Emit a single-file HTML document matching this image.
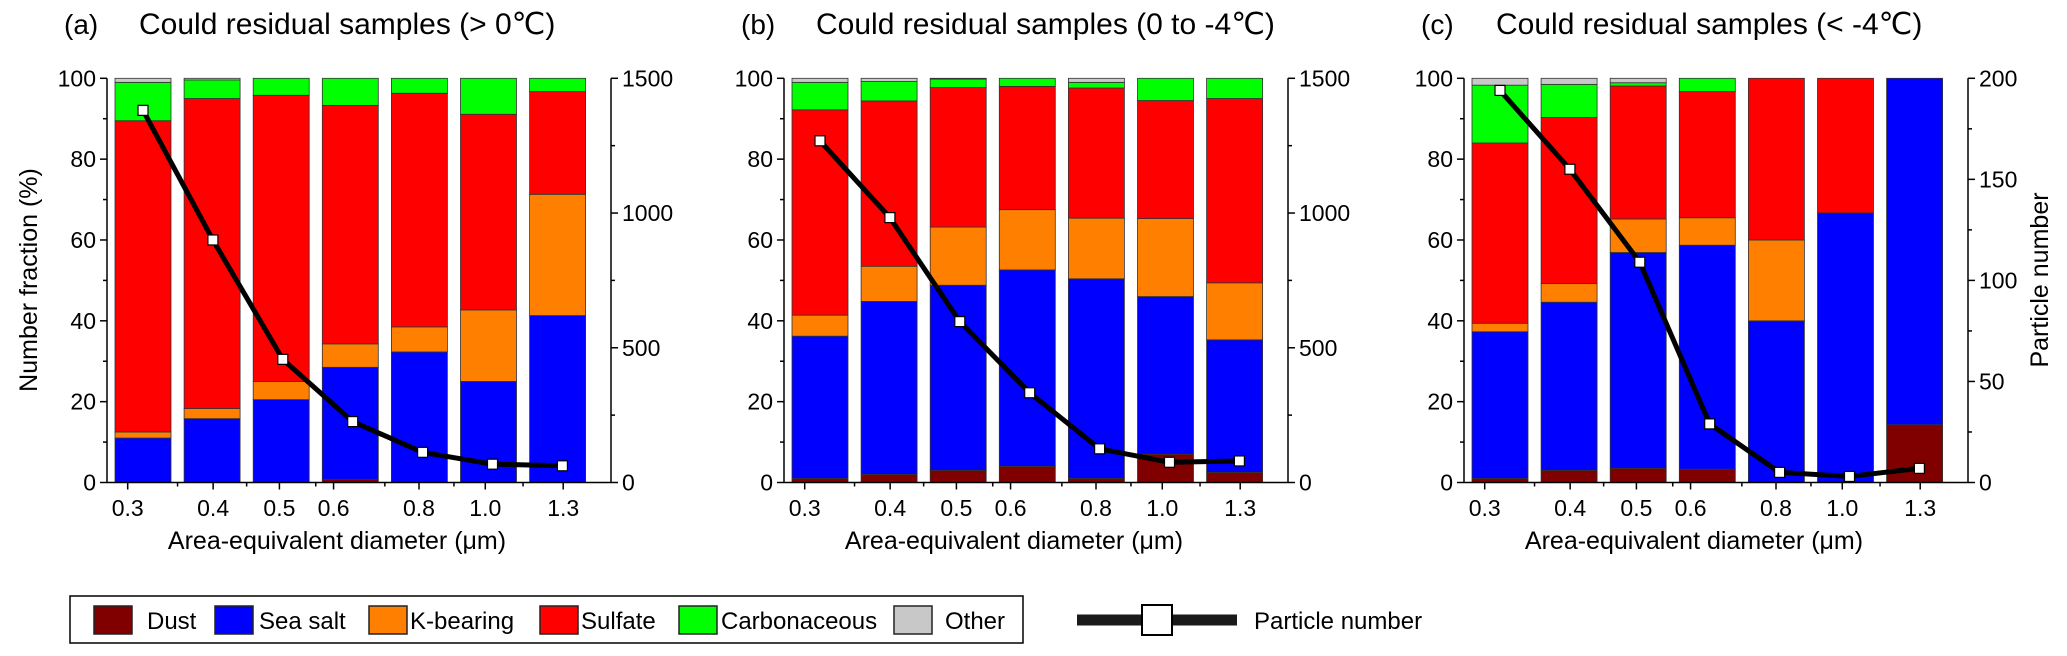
<!DOCTYPE html>
<html><head><meta charset="utf-8">
<style>
html,body{margin:0;padding:0;background:#fff;}
svg{display:block;font-family:"Liberation Sans",Arial,sans-serif;}
</style></head>
<body>
<svg id="chart" width="2067" height="656" viewBox="0 0 2067 656" xmlns="http://www.w3.org/2000/svg"></svg>
<script>
// ---- data ----
const sizeBins = ["0.3","0.4","0.5","0.6","0.8","1.0","1.3"];
const tickDiameters = [0.3,0.4,0.5,0.6,0.8,1.0,1.3];
const tickLabels = ["0.3","0.4","0.5","0.6","0.8","1.0","1.3"];
const speciesNames = ["Dust","Sea salt","K-bearing","Sulfate","Carbonaceous","Other"];
const speciesColors = ["#800000","#0000ff","#ff8000","#ff0000","#00ff00","#c8c8c8"];
const panelTitles = ["Could residual samples (> 0\u2103)","Could residual samples (0 to -4\u2103)","Could residual samples (< -4\u2103)"];
const panelLetters = ["(a)","(b)","(c)"];

// panel a fractions (%)
const dustA     = [0, 0, 0, 0.8, 0, 0, 0];
const seaSaltA  = [11, 15.8, 20.5, 27.7, 32.3, 25, 41.3];
const kBearingA = [1.5, 2.5, 4.5, 5.8, 6.2, 17.7, 30];
const sulfateA  = [77, 76.7, 70.8, 59, 57.8, 48.4, 25.4];
const carbonA   = [9.5, 4.6, 4.2, 6.7, 3.7, 8.9, 3.3];
const otherA    = [1, 0.4, 0, 0, 0, 0, 0];
const countsA   = [1381, 900, 457, 226, 112, 68, 62];

// panel b fractions (%)
const dustB     = [1, 2, 3, 4, 1, 7, 2.5];
const seaSaltB  = [35.2, 42.8, 45.8, 48.6, 49.4, 39, 32.8];
const kBearingB = [5.2, 8.7, 14.4, 14.9, 15, 19.3, 14.1];
const sulfateB  = [50.8, 40.9, 34.5, 30.5, 32.2, 29.2, 45.6];
const carbonB   = [6.8, 4.8, 2.1, 2, 1.4, 5.5, 5];
const otherB    = [1, 0.8, 0.2, 0, 1, 0, 0];
const countsB   = [1268, 983, 597, 333, 125, 75, 80];

// panel c fractions (%)
const dustC     = [1, 3, 3.5, 3.3, 0, 0, 14.3];
const seaSaltC  = [36.3, 41.6, 53.4, 55.4, 40, 66.7, 85.7];
const kBearingC = [2.1, 4.6, 8.3, 6.8, 20, 0, 0];
const sulfateC  = [44.6, 41.1, 32.9, 31.2, 40, 33.3, 0];
const carbonC   = [14.3, 8.2, 0.8, 3.3, 0, 0, 0];
const otherC    = [1.7, 1.5, 1.1, 0, 0, 0, 0];
const countsC   = [194, 155, 109, 29, 5, 3, 7];

const rightMaxes = [1500, 1500, 200];
const rightMajor = [[0,500,1000,1500],[0,500,1000,1500],[0,50,100,150,200]];
const rightMinor = [[250,750,1250],[250,750,1250],[25,75,125,175]];
const leftMajor = [0,20,40,60,80,100];
const leftMinor = [10,30,50,70,90];

// ---- layout ----
const NS = "http://www.w3.org/2000/svg";
const svg = document.getElementById("chart");
const panelLefts = [107, 784, 1464];
const plotW = 504, yTop = 78.3, yBot = 482.5;
const barOff = 8, barStep = 69.1, barW = 56;
function yPct(v){ return yBot - (yBot - yTop) * v / 100; }
function yCnt(v, max){ return yBot - (yBot - yTop) * v / max; }
function xBar(L, i){ return L + barOff + i * barStep; }
function xLog(L, d){ return L + 20.7 + 297 * Math.log(d / 0.3); }
function el(tag, attrs, parent){
  const e = document.createElementNS(NS, tag);
  for (const k in attrs) e.setAttribute(k, attrs[k]);
  (parent || svg).appendChild(e);
  return e;
}
function txt(s, attrs, parent){ const t = el("text", attrs, parent); t.textContent = s; return t; }

const panelData = [
  [dustA, seaSaltA, kBearingA, sulfateA, carbonA, otherA],
  [dustB, seaSaltB, kBearingB, sulfateB, carbonB, otherB],
  [dustC, seaSaltC, kBearingC, sulfateC, carbonC, otherC]
];
const panelCounts = [countsA, countsB, countsC];
const pNames = ["a","b","c"];

for (let p = 0; p < 3; p++) {
  const L = panelLefts[p], R = L + plotW;
  const g = el("g", {});
  
  

  const lt = txt(panelLetters[p], {x: L - 43, y: 34, "font-size": 28, fill: "#000"}, g);
  
  
  const tt = txt(panelTitles[p], {x: L + 32, y: 34, "font-size": 30, fill: "#000"}, g);
  
  

  // bars
  const data = panelData[p];
  for (let i = 0; i < sizeBins.length; i++) {
    let cum = 0;
    const x = xBar(L, i);
    for (let s = 0; s < speciesNames.length; s++) {
      const v = data[s][i];
      if (v <= 0) continue;
      const y1 = yPct(cum + v), y0 = yPct(cum);
      const r = el("rect", {x: x, y: y1, width: barW, height: y0 - y1, fill: speciesColors[s], stroke: "#333", "stroke-width": 0.8}, g);
      
      
      cum += v;
    }
  }

  // axes
  const ax = el("g", {stroke: "#000", "stroke-width": 1.5, fill: "none"}, g);
  
  
  el("line", {x1: L, y1: yTop, x2: L, y2: yBot}, ax);
  el("line", {x1: R, y1: yTop, x2: R, y2: yBot}, ax);
  el("line", {x1: L, y1: yBot, x2: R, y2: yBot}, ax);
  leftMajor.forEach(v => el("line", {x1: L - 7, y1: yPct(v), x2: L, y2: yPct(v)}, ax));
  leftMinor.forEach(v => el("line", {x1: L - 4, y1: yPct(v), x2: L, y2: yPct(v)}, ax));
  rightMajor[p].forEach(v => el("line", {x1: R, y1: yCnt(v, rightMaxes[p]), x2: R + 7, y2: yCnt(v, rightMaxes[p])}, ax));
  rightMinor[p].forEach(v => el("line", {x1: R, y1: yCnt(v, rightMaxes[p]), x2: R + 4, y2: yCnt(v, rightMaxes[p])}, ax));
  tickDiameters.forEach(d => el("line", {x1: xLog(L, d), y1: yBot, x2: xLog(L, d), y2: yBot + 7}, ax));
  for (let i = 0; i < sizeBins.length - 1; i++) {
    const xm = xBar(L, i) + barW + (barStep - barW) / 2;
    el("line", {x1: xm, y1: yBot, x2: xm, y2: yBot + 4}, ax);
  }

  const lbl = el("g", {"font-size": 23, fill: "#000"}, g);
  
  
  leftMajor.forEach(v => txt(String(v), {x: L - 11, y: yPct(v) + 8, "text-anchor": "end"}, lbl));
  rightMajor[p].forEach(v => txt(String(v), {x: R + 11, y: yCnt(v, rightMaxes[p]) + 8}, lbl));
  tickDiameters.forEach((d, k) => txt(tickLabels[k], {x: xLog(L, d), y: 516, "text-anchor": "middle"}, lbl));

  const xt = txt("Area-equivalent diameter (\u03bcm)", {x: L + 230, y: 549, "font-size": 25, "text-anchor": "middle", fill: "#000"}, g);
  
  

  // particle number line
  const counts = panelCounts[p];
  const pts = counts.map((c, i) => [xBar(L, i) + barW / 2 + i * 0.8, yCnt(c, rightMaxes[p])]);
  const line = el("polyline", {points: pts.map(q => q.join(",")).join(" "), fill: "none", stroke: "#000", "stroke-width": 5, "stroke-linejoin": "round"}, g);
  
  
  pts.forEach((q, i) => {
    const m = el("rect", {x: q[0] - 5, y: q[1] - 5, width: 10, height: 10, fill: "#fff", stroke: "#000", "stroke-width": 1.2}, g);
    
    
  });
}

const yl = txt("Number fraction (%)", {x: 0, y: 0, "font-size": 25, "text-anchor": "middle", fill: "#000", transform: "translate(37,280) rotate(-90)"});


const yr = txt("Particle number", {x: 0, y: 0, "font-size": 25, "text-anchor": "middle", fill: "#000", transform: "translate(2048,280) rotate(-90)"});



// legend
const lg = el("g", {});


el("rect", {x: 70, y: 596, width: 953, height: 47, fill: "#fff", stroke: "#000", "stroke-width": 1.5}, lg);
const swX = [94, 215, 369, 540, 679, 894];
const lbX = [147, 259, 410, 581, 721, 945];
speciesNames.forEach((n, s) => {
  const sw = el("rect", {x: swX[s], y: 606, width: 38, height: 28, fill: speciesColors[s], stroke: "#222", "stroke-width": 1.5}, lg);
  
  
  const t = txt(n, {x: lbX[s], y: 629, "font-size": 24, fill: "#000"}, lg);
  
  
});
const pl = el("g", {});


el("line", {x1: 1077, y1: 620, x2: 1237, y2: 620, stroke: "#1a1a1a", "stroke-width": 11}, pl);
el("rect", {x: 1142, y: 605, width: 30, height: 30, fill: "#fff", stroke: "#000", "stroke-width": 2}, pl);
txt("Particle number", {x: 1254, y: 629, "font-size": 24, fill: "#000"}, pl);
</script>
</body></html>
